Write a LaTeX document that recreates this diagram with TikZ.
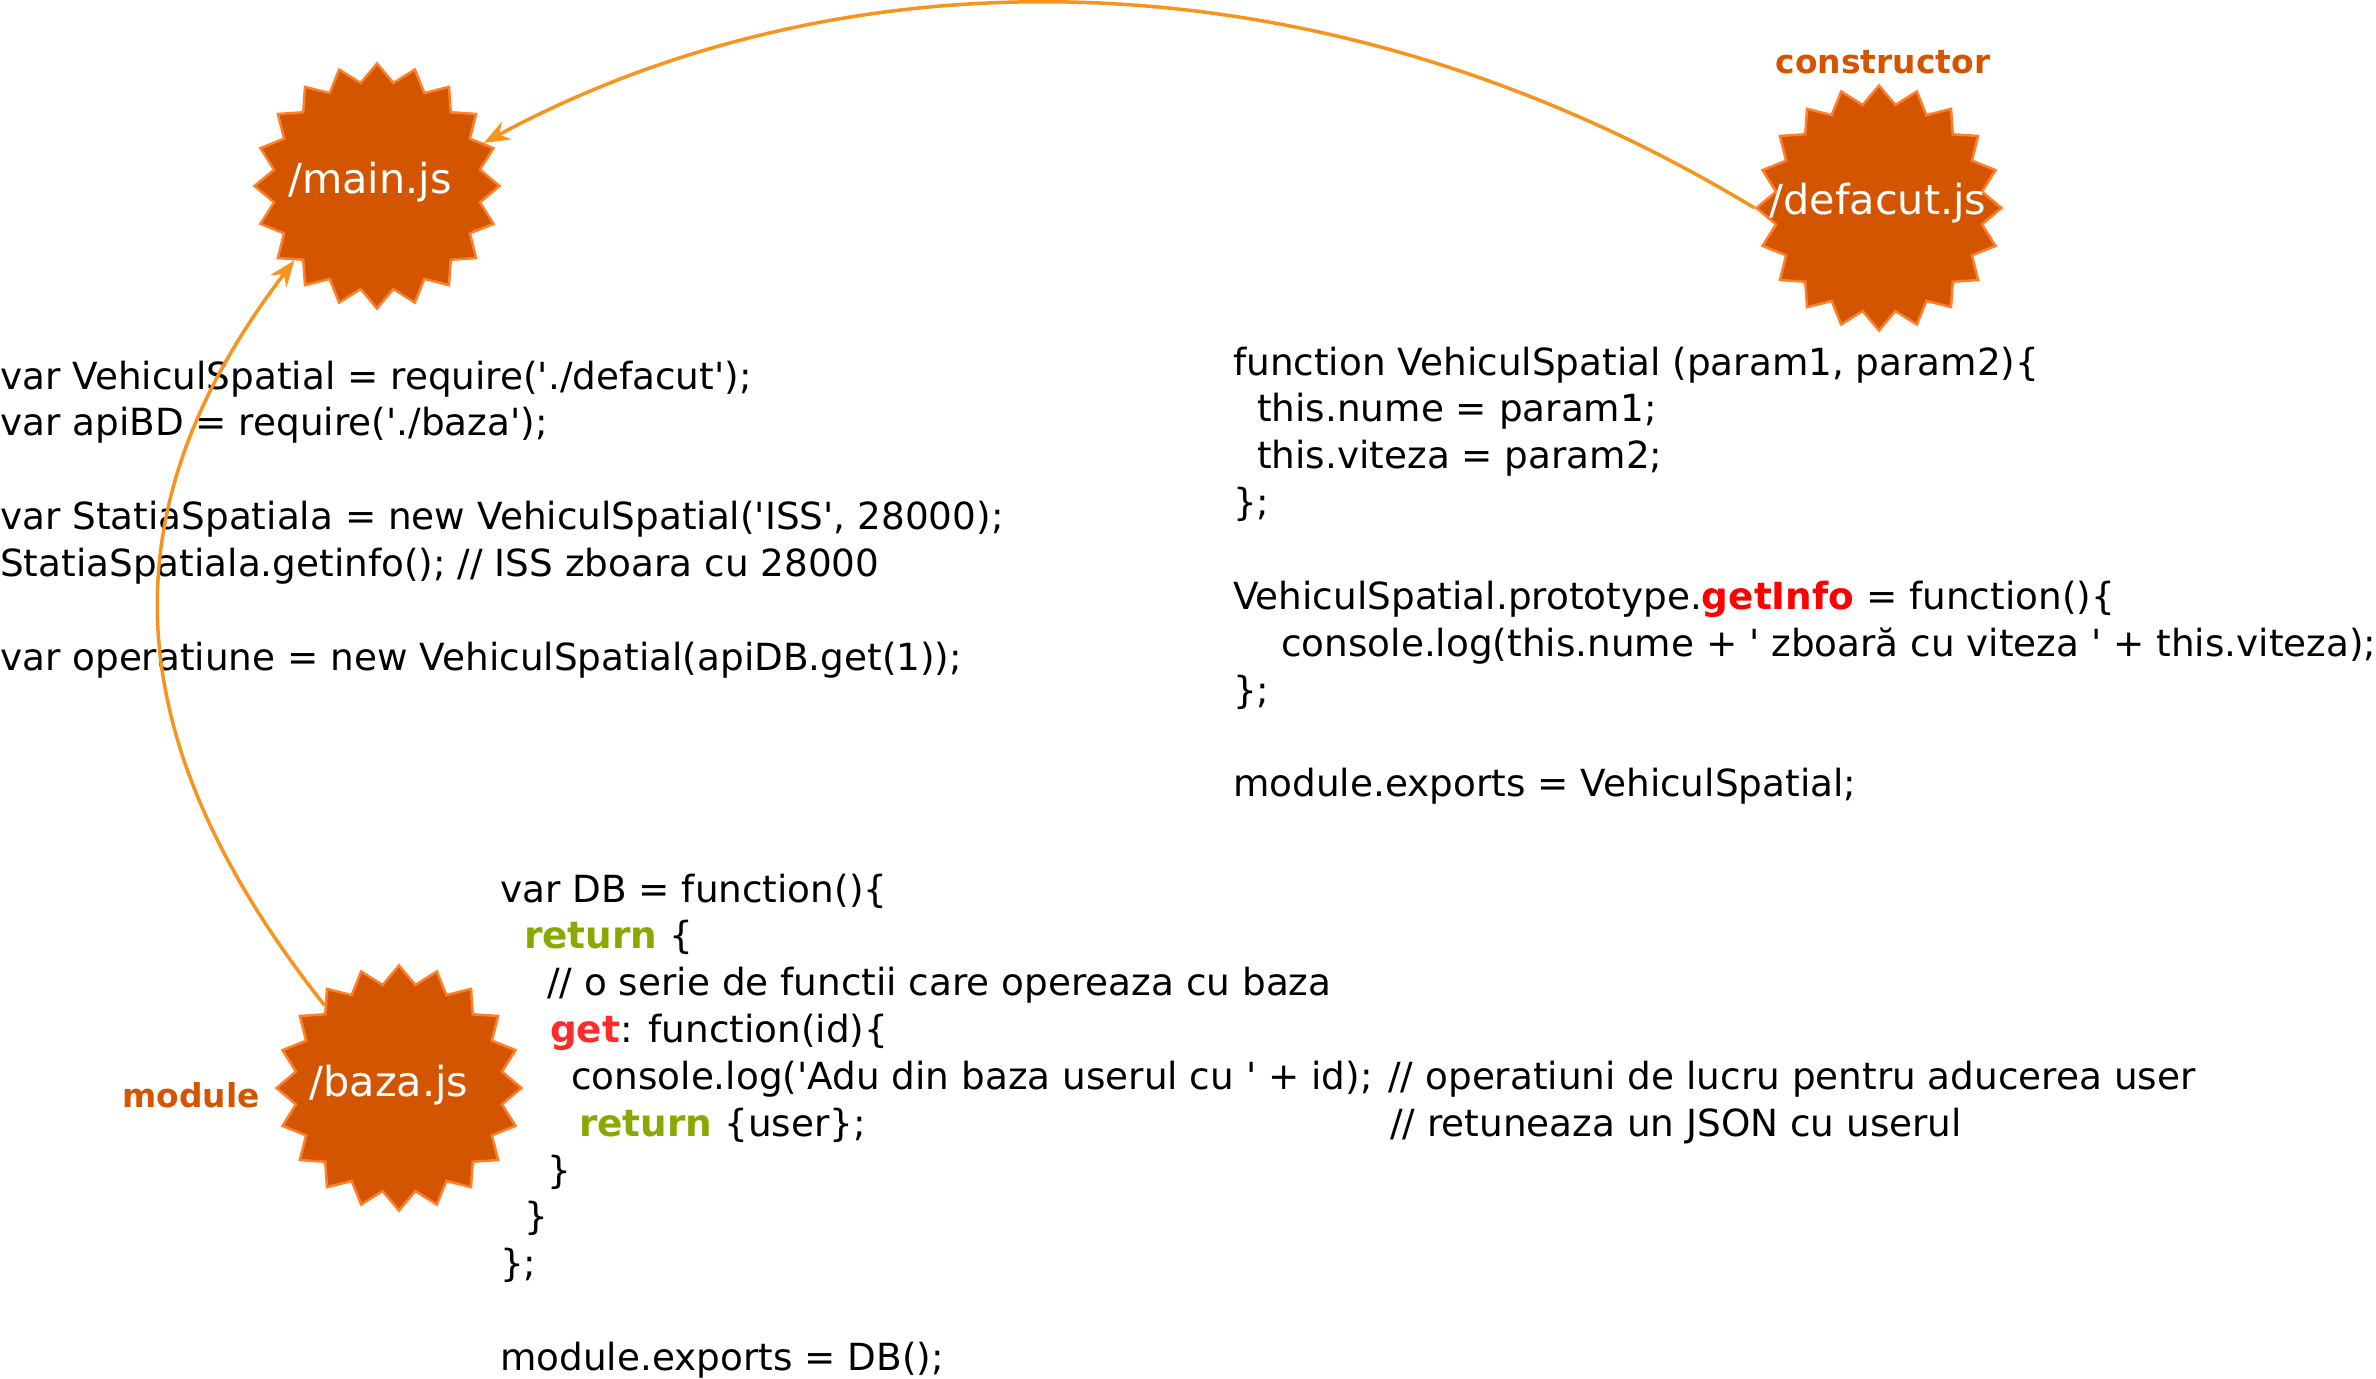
\documentclass[tikz,border=0pt]{standalone}
\usepackage{fontspec}
\setmainfont{DejaVu Sans}
\usetikzlibrary{arrows.meta,shapes.geometric}

\definecolor{burst}{HTML}{D45500}
\definecolor{burstedge}{HTML}{FF7F2A}
\definecolor{linkorange}{HTML}{F7941E}
\definecolor{kwgreen}{HTML}{88AA00}
\definecolor{kwred}{HTML}{FF2A2A}
\definecolor{fnred}{HTML}{FF0000}

\newcommand{\codeindent}[1]{\hspace*{#1bp}}
\newcommand{\sq}{\textquotesingle}
\newcommand{\kwreturn}{{\bfseries\color{kwgreen}return}}

\begin{document}
\begin{tikzpicture}[x=1bp, y=-1bp,
    burst/.style={draw=burstedge, fill=burst, line width=2.5bp, star, star points=20, star point ratio=1.175, minimum size=245bp, inner sep=0pt},
    burstlbl/.style={text=white, font=\fontsize{41.5}{50}\selectfont, anchor=base, inner sep=0pt},
    tag/.style={text=burst, font=\fontsize{33}{40}\selectfont\bfseries, anchor=base, inner sep=0pt},
    code/.style={font=\fontsize{37.5}{47}\selectfont, align=left, anchor=north west, inner sep=0pt},
    link/.style={draw=linkorange, line width=3.5bp, -{Stealth[length=26bp, width=20bp]}},
]
\useasboundingbox (0,0) rectangle (2376,1379);

% the three files
\node[burst] (main) at (377,186) {};
\node[burst] (defacut) at (1879,208) {};
\node[burst] (baza) at (399,1088) {};
\node[burstlbl] (mainlbl) at (370,194) {/main.js};
\node[burstlbl] (defacutlbl) at (1878,215) {/defacut.js};
\node[burstlbl] (bazalbl) at (389,1096) {/baza.js};
\node[tag] (constructor) at (1883,74) {constructor};
\node[tag] (module) at (191,1107) {module};

% code of main.js
\node[code] (maincode) at (0,360.5) {var VehiculSpatial = require(\sq./defacut\sq);\\
var apiBD = require(\sq./baza\sq);\\[47bp]
var StatiaSpatiala = new VehiculSpatial(\sq ISS\sq, 28000);\\
StatiaSpatiala.getinfo(); // ISS zboara cu 28000\\[47bp]
var operatiune = new VehiculSpatial(apiDB.get(1));};

% code of defacut.js
\node[code] (defacutcode) at (1233,346.5) {function VehiculSpatial (param1, param2)\{\\
\codeindent{24}this.nume = param1;\\
\codeindent{24}this.viteza = param2;\\
\};\\[47bp]
VehiculSpatial.prototype.{\bfseries\color{fnred}getInfo} = function()\{\\
\codeindent{48}console.log(this.nume + \sq{} zboară cu viteza \sq{} + this.viteza);\\
\};\\[47bp]
module.exports = VehiculSpatial;};

% code of baza.js
\node[code] (bazacode) at (500,873.5) {var DB = function()\{\\
\codeindent{24}\kwreturn{} \{\\
\codeindent{47}// o serie de functii care opereaza cu baza\\
\codeindent{50}{\bfseries\color{kwred}get}: function(id)\{\\
\makebox[888bp][l]{\codeindent{71}console.log(\sq Adu din baza userul cu \sq{} + id);}// operatiuni de lucru pentru aducerea user\\
\makebox[890bp][l]{\codeindent{79}\kwreturn{} \{user\};}// retuneaza un JSON cu userul\\
\codeindent{47}\}\\
\codeindent{24}\}\\
\};\\[47bp]
module.exports = DB();};

% require links
\draw[link] (defacut.180) .. controls (1320,-55) and (845,-52) .. (main.22);
\draw[link] (baza.132) .. controls (105,728) and (112,499) .. (main.222);
\end{tikzpicture}
\end{document}
